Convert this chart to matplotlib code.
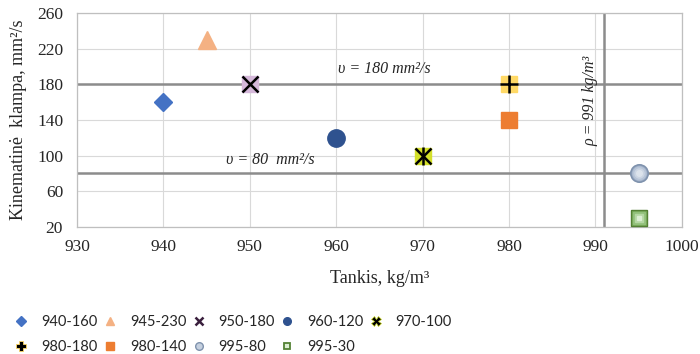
import matplotlib
matplotlib.use("Agg")
import matplotlib.pyplot as plt

# Density (kg/m3) and kinematic viscosity (mm2/s) of the samples
labels = ["940-160", "945-230", "950-180", "960-120", "970-100",
          "980-180", "980-140", "995-80", "995-30"]
density = [940, 945, 950, 960, 970, 980, 980, 995, 995]
viscosity = [160, 230, 180, 120, 100, 180, 140, 80, 30]

# Reference limits
visc_limits = [180, 80]
density_limit = 991

x_ticks = [930, 940, 950, 960, 970, 980, 990, 1000]
y_ticks = [20, 60, 100, 140, 180, 220, 260]

serif = "Liberation Serif"
sans = "Lato"
text_color = "#262626"

fig = plt.figure(figsize=(7.0, 3.54), dpi=100)
ax = fig.add_axes([0.110, 0.359, 0.864, 0.604])
ax.set_xlim(930, 1000)
ax.set_ylim(20, 260)
ax.set_xticks(x_ticks)
ax.set_yticks(y_ticks)
ax.grid(True, color="#D9D9D9", linewidth=0.8, zorder=0)
ax.set_axisbelow(True)
for s in ax.spines.values():
    s.set_color("#BFBFBF")
    s.set_linewidth(0.9)
ax.tick_params(axis="y", length=0, pad=10, labelsize=12.5)
ax.tick_params(axis="x", length=0, pad=9, labelsize=12.5)
for t in ax.get_xticklabels() + ax.get_yticklabels():
    t.set_fontfamily(serif)
    t.set_color(text_color)

# Limit lines
for v in visc_limits:
    ax.axhline(v, color="#8C8C8C", linewidth=1.8, zorder=2)
ax.axvline(density_limit, color="#8C8C8C", linewidth=1.8, zorder=2)

handles = []
z = 5
SQ = 12.2
# 940-160 diamond
h, = ax.plot(density[0], viscosity[0], "D", ms=9.2, color="#4472C4", mec="#4472C4", zorder=z, linestyle="none")
handles.append(h)
# 945-230 triangle
h, = ax.plot(density[1], viscosity[1], "^", ms=12.5, color="#F4B183", mec="#F4B183", zorder=z, linestyle="none")
handles.append(h)
# 950-180 cross on lavender square
ax.plot(density[2], viscosity[2], "s", ms=SQ, color="#D5B8DA", mec="#D5B8DA", zorder=z)
h, = ax.plot(density[2], viscosity[2], "x", ms=11.5, color="black", mew=1.8, zorder=z + 1, linestyle="none")
handles.append(h)
# 960-120 circle
h, = ax.plot(density[3], viscosity[3], "o", ms=12.5, color="#2F528F", mec="#2F528F", zorder=z, linestyle="none")
handles.append(h)
# 970-100 star on yellow-green square
ax.plot(density[4], viscosity[4], "s", ms=SQ, color="#D4E02A", mec="#D4E02A", zorder=z)
ax.plot(density[4], viscosity[4], "x", ms=11.5, color="black", mew=1.8, zorder=z + 1)
ax.plot(density[4], viscosity[4], "|", ms=12.5, color="black", mew=1.8, zorder=z + 1)
h, = ax.plot([], [], "X", ms=7, color="black", mfc="black", mec="#D4E02A", mew=0.5, linestyle="none")
handles.append(h)
# 980-180 plus on gold square
ax.plot(density[5], viscosity[5], "s", ms=SQ, color="#FFD966", mec="#FFD966", zorder=z)
ax.plot(density[5], viscosity[5], "+", ms=12.5, color="black", mew=1.8, zorder=z + 1)
h, = ax.plot([], [], "P", ms=7, color="black", mec="#FFD966", mew=0.6, linestyle="none")
handles.append(h)
# 980-140 orange square
h, = ax.plot(density[6], viscosity[6], "s", ms=SQ, color="#ED7D31", mec="#ED7D31", zorder=z, linestyle="none")
handles.append(h)
# 995-80 shaded circle
ax.plot(density[7], viscosity[7], "o", ms=12.5, color="#A3B3CA", mec="#7F92AD", mew=1.2, zorder=z)
for ms, c in [(9, "#B8C5D8"), (6.5, "#CBD5E3"), (4, "#DCE3EC")]:
    ax.plot(density[7], viscosity[7], "o", ms=ms, color=c, mec=c, zorder=z + 1)
h, = ax.plot([], [], "o", ms=5.5, color="#C5D0DF", mec="#7F92AD", mew=1, linestyle="none")
handles.append(h)
# 995-30 shaded square
ax.plot(density[8], viscosity[8], "s", ms=SQ, color="#4E7A2E", mec="#4E7A2E", zorder=z)
for ms, c in [(10, "#70A050"), (8, "#92C07A"), (6, "#B5D7A3"), (3.5, "#DDEED4")]:
    ax.plot(density[8], viscosity[8], "s", ms=ms, color=c, mec=c, zorder=z + 1)
h, = ax.plot([], [], "s", ms=5, color="#DDEED4", mec="#548235", mew=1.3, linestyle="none")
handles.append(h)

# Limit annotations
ann = dict(fontfamily=serif, fontstyle="italic", fontsize=11.5, color=text_color, zorder=4)
ax.text(965.6, 197, "υ = 180 mm²/s", ha="center", va="center", **ann)
ax.text(952.4, 95, "υ = 80  mm²/s", ha="center", va="center", **ann)
ax.text(989.4, 161, "ρ = 991 kg/m³", ha="center", va="center", rotation=90, **ann)

# Axis titles
fig.text(0.542, 0.212, "Tankis, kg/m³", fontfamily=serif, fontsize=13,
         ha="center", va="center", color=text_color)
fig.text(0.026, 0.662, "Kinematinė  klampa, mm²/s", fontfamily=serif, fontsize=13,
         ha="center", va="center", rotation=90, color=text_color)

order = [0, 5, 1, 6, 2, 7, 3, 8, 4]
leg = fig.legend([handles[i] for i in order], [labels[i] for i in order], ncol=5,
                 loc="lower left", bbox_to_anchor=(0.0015, -0.036), frameon=False,
                 prop={"family": sans, "size": 10.5}, handlelength=1.0,
                 handletextpad=0.87, columnspacing=0.34, labelspacing=0.72,
                 labelcolor=text_color)
small = {0: 5, 1: 6, 2: 6, 3: 5.5, 6: 5.5}
for k, i in enumerate(order):
    lh = leg.legend_handles[k]
    if i in small:
        lh.set_markersize(small[i])
    if i == 2:
        lh.set_color("#3A1F3D")
        lh.set_markeredgewidth(1.8)

fig.savefig("out.png", dpi=100)
